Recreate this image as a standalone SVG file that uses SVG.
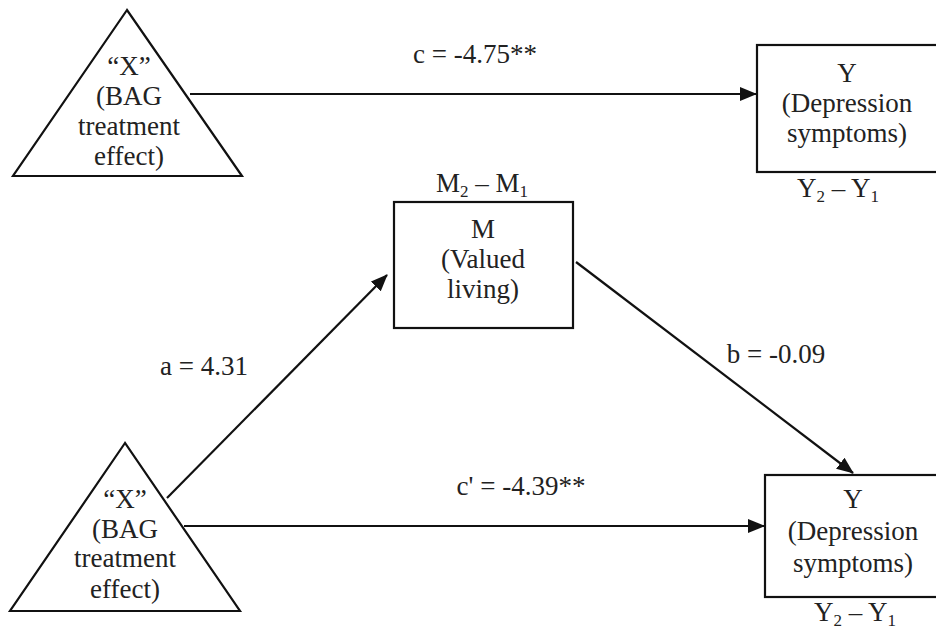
<svg xmlns="http://www.w3.org/2000/svg" width="936" height="632" viewBox="0 0 936 632">
<style>
text{font-size:27px;fill:#222;text-anchor:middle}
.shape{fill:#fff;stroke:#111;stroke-width:2.2}
.conn{stroke:#111;stroke-width:2.2;fill:none}
.sub{font-size:17px}
</style>
<defs>
<marker id="arr" markerUnits="userSpaceOnUse" markerWidth="18" markerHeight="14" refX="16" refY="7" orient="auto">
<path d="M0,0 L17,7 L0,14 Z" fill="#111"/>
</marker>
</defs>
<rect width="936" height="632" fill="#fff"/>
<g font-family="Liberation Serif, serif">
<g id="connectors">
<line class="conn" x1="190" y1="94" x2="756" y2="94" marker-end="url(#arr)"/>
<line class="conn" x1="184" y1="526" x2="764" y2="526" marker-end="url(#arr)"/>
<line class="conn" x1="167" y1="498" x2="387" y2="275" marker-end="url(#arr)"/>
<line class="conn" x1="576" y1="262" x2="853" y2="473" marker-end="url(#arr)"/>
<text x="475" y="63">c = -4.75**</text>
<text x="204" y="375">a = 4.31</text>
<text x="776" y="363">b = -0.09</text>
<text x="521" y="495">c' = -4.39**</text>
</g>
<g id="x-top">
<polygon class="shape" points="127,10 13,176 242,176"/>
<text x="129" y="75">“X”</text>
<text x="129" y="105">(BAG</text>
<text x="129" y="135">treatment</text>
<text x="129" y="165">effect)</text>
</g>
<g id="y-top">
<rect class="shape" x="757" y="45" width="185" height="127"/>
<text x="847" y="82">Y</text>
<text x="847" y="112">(Depression</text>
<text x="847" y="142">symptoms)</text>
<text x="838" y="197">Y<tspan class="sub" dy="5">2</tspan><tspan dy="-5"> – Y</tspan><tspan class="sub" dy="5">1</tspan></text>
</g>
<g id="m">
<rect class="shape" x="394" y="202" width="179" height="126"/>
<text x="483" y="238">M</text>
<text x="483" y="268">(Valued</text>
<text x="483" y="298">living)</text>
<text x="482" y="192">M<tspan class="sub" dy="5">2</tspan><tspan dy="-5"> – M</tspan><tspan class="sub" dy="5">1</tspan></text>
</g>
<g id="x-bottom">
<polygon class="shape" points="125,443 10,611 240,611"/>
<text x="125" y="508">“X”</text>
<text x="125" y="538">(BAG</text>
<text x="125" y="567">treatment</text>
<text x="125" y="598">effect)</text>
</g>
<g id="y-bottom">
<rect class="shape" x="765" y="475" width="185" height="122"/>
<text x="853" y="508">Y</text>
<text x="853" y="540">(Depression</text>
<text x="853" y="572">symptoms)</text>
<text x="855" y="621">Y<tspan class="sub" dy="5">2</tspan><tspan dy="-5"> – Y</tspan><tspan class="sub" dy="5">1</tspan></text>
</g>
</g>
</svg>
